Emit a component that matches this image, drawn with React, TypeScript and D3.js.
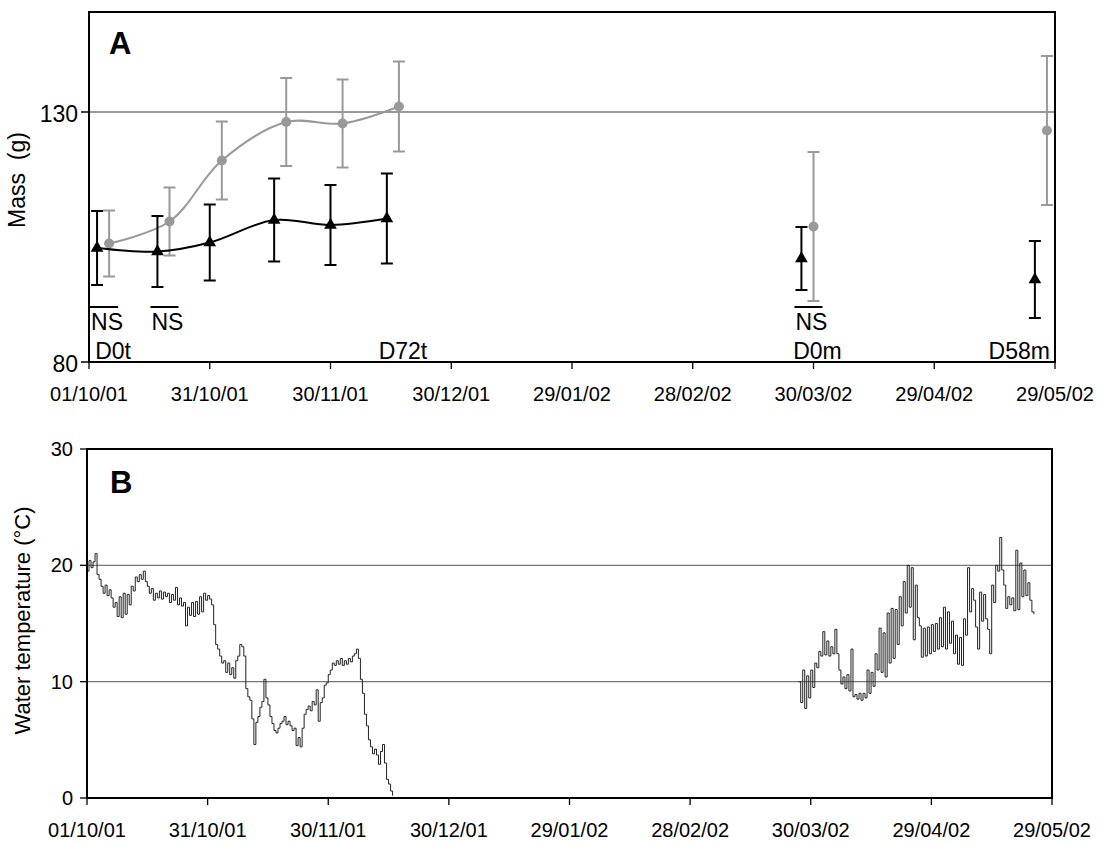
import { useEffect, useRef } from 'react';
import * as d3 from 'd3';

// x axis tick labels (every 30 days)
const tickLabels = ['01/10/01', '31/10/01', '30/11/01', '30/12/01', '29/01/02', '28/02/02', '30/03/02', '29/04/02', '29/05/02'];

// Panel A - mass, black triangles
const triDates = ['2001-10-03', '2001-10-18', '2001-10-31', '2001-11-16', '2001-11-30', '2001-12-14', '2002-03-27', '2002-05-24'];
const triMass = [102.8, 102.1, 103.9, 108.4, 107.4, 108.7, 100.7, 96.5];
const triErr = [7.4, 7.1, 7.6, 8.3, 8.0, 9.0, 6.3, 7.7];

// Panel A - mass, grey circles
const dotDates = ['2001-10-06', '2001-10-21', '2001-11-03', '2001-11-19', '2001-12-03', '2001-12-17', '2002-03-30', '2002-05-27'];
const dotMass = [103.7, 108.1, 120.3, 128.0, 127.7, 131.1, 107.1, 126.3];
const dotErr = [6.6, 6.8, 7.8, 8.8, 8.8, 9.0, 14.9, 14.9];

// how many points of each series are joined by the smoothed line
const joined = 6;

// NS marks under point pairs (index into both series)
const nsIndex = [0, 1, 6];
// day labels
const dayLabels = ['D0t', 'D72t', 'D0m', 'D58m'];
const dayLabelIndex = [0, 5, 6, 7];

// Panel B - water temperature, readings every 12 h
const autumnStart = '2001-10-01';
const autumnTemp = [
  19.5, 20.4, 19.8, 20.3, 21.0, 19.2, 18.8, 18.2, 17.6, 18.3,
  17.4, 17.9, 17.2, 16.4, 16.8, 15.6, 17.3, 15.5, 17.6, 15.8,
  17.5, 16.6, 18.2, 17.8, 19.0, 18.6, 19.2, 18.8, 19.5, 18.6,
  18.2, 17.6, 18.0, 17.0, 17.6, 17.2, 17.8, 17.1, 17.7, 17.3,
  17.6, 16.8, 17.5, 17.0, 18.1, 16.6, 17.2, 16.5, 16.8, 14.8,
  16.4, 15.7, 16.8, 15.6, 16.9, 15.8, 17.3, 16.0, 17.6, 17.0,
  17.4, 17.1, 16.6, 14.9, 13.2, 12.8, 12.2, 11.6, 11.8, 10.8,
  11.6, 10.6, 11.2, 10.3, 11.8, 12.2, 13.2, 13.0, 12.2, 9.4,
  8.7, 8.4, 6.8, 4.6, 6.5, 7.0, 7.8, 8.3, 10.2, 8.6,
  8.0, 7.0, 6.4, 5.8, 5.6, 6.0, 6.4, 6.6, 7.0, 6.3,
  6.6, 6.2, 5.8, 6.0, 4.5, 5.2, 4.4, 6.0, 7.2, 7.6,
  7.9, 7.5, 8.3, 8.0, 9.3, 6.6, 8.2, 8.6, 9.7, 9.9,
  10.6, 11.0, 11.6, 11.4, 11.8, 11.5, 12.0, 11.4, 11.8, 11.5,
  12.0, 11.7, 12.2, 12.4, 12.8, 12.0, 10.2, 9.0, 7.2, 6.2,
  5.0, 4.4, 3.8, 4.2, 3.7, 2.9, 4.0, 4.6, 3.0, 1.6,
  1.2, 0.6, 0.2,
];
const springStart = '2002-03-27';
const springTemp = [
  10.0, 8.2, 11.0, 7.7, 10.5, 8.6, 11.0, 9.5, 11.6, 11.2,
  12.6, 12.2, 14.3, 12.3, 13.5, 12.2, 13.0, 12.4, 14.5, 12.4,
  11.0, 9.8, 10.4, 9.4, 10.6, 9.2, 12.8, 8.7, 8.9, 8.5,
  9.0, 8.4, 9.0, 8.6, 11.0, 9.0, 10.8, 9.6, 12.4, 11.0,
  14.6, 10.8, 14.2, 10.4, 15.9, 11.6, 16.3, 12.0, 16.2, 13.2,
  17.3, 14.8, 18.6, 15.9, 20.0, 16.4, 19.8, 13.6, 18.3, 15.5,
  14.8, 12.1, 14.6, 12.2, 14.7, 12.4, 14.9, 12.6, 15.0, 12.8,
  15.5, 13.0, 16.4, 12.8, 16.0, 13.3, 15.2, 12.4, 14.0, 11.5,
  13.8, 11.4, 15.4, 14.0, 19.8, 16.0, 18.0, 17.0, 14.7, 12.8,
  17.7, 15.2, 17.5, 15.4, 14.5, 12.4, 18.3, 16.8, 20.0, 19.5,
  22.4, 19.6, 18.3, 16.3, 17.3, 16.6, 17.2, 16.1, 21.3, 16.2,
  20.2, 17.3, 19.6, 17.4, 18.5, 17.0, 16.0, 15.8,
];

const massTicks = [80, 130];
const tempTicks = [0, 10, 20, 30];

const FONT = 'Liberation Sans, Arial, sans-serif';
const GREY = '#999999';

function App() {
  const svgRef = useRef<SVGSVGElement>(null);

  useEffect(() => {
    if (!svgRef.current) return;
    const svg = d3.select(svgRef.current);
    svg.selectAll('*').remove();

    const parseTick = d3.utcParse('%d/%m/%y');
    const parseIso = d3.utcParse('%Y-%m-%d');
    const tickDates = tickLabels.map((t) => parseTick(t) as Date);
    const domain = [tickDates[0], tickDates[tickDates.length - 1]];

    // ---------- Panel A ----------
    const a = { left: 89, right: 1055, top: 12, bottom: 362 };
    const xA = d3.scaleUtc().domain(domain).range([a.left, a.right]);
    const yA = d3.scaleLinear().domain([80, 150]).range([a.bottom, a.top]);

    const gA = svg.append('g');

    // gridline
    massTicks.filter((t) => t > 80).forEach((t) => {
      gA.append('line')
        .attr('x1', a.left).attr('x2', a.right)
        .attr('y1', yA(t)).attr('y2', yA(t))
        .attr('stroke', '#777').attr('stroke-width', 1.3);
    });

    // frame
    gA.append('rect')
      .attr('x', a.left).attr('y', a.top)
      .attr('width', a.right - a.left).attr('height', a.bottom - a.top)
      .attr('fill', 'none').attr('stroke', '#000').attr('stroke-width', 2);

    // y ticks + labels
    massTicks.forEach((t) => {
      gA.append('line')
        .attr('x1', a.left - 8).attr('x2', a.left)
        .attr('y1', yA(t)).attr('y2', yA(t))
        .attr('stroke', '#000').attr('stroke-width', 1.5);
      gA.append('text')
        .attr('x', a.left - 11).attr('y', yA(t) + 9.5)
        .attr('text-anchor', 'end')
        .attr('font-family', FONT).attr('font-size', 23)
        .text(String(t));
    });

    // x ticks + labels
    tickDates.forEach((d, i) => {
      gA.append('line')
        .attr('x1', xA(d)).attr('x2', xA(d))
        .attr('y1', a.bottom).attr('y2', a.bottom + 7)
        .attr('stroke', '#000').attr('stroke-width', 1.3);
      gA.append('text')
        .attr('x', xA(d)).attr('y', a.bottom + 39)
        .attr('text-anchor', 'middle')
        .attr('font-family', FONT).attr('font-size', 20)
        .text(tickLabels[i]);
    });

    gA.append('text')
      .attr('transform', `translate(25,${(a.top + a.bottom) / 2 - 7}) rotate(-90)`)
      .attr('text-anchor', 'middle')
      .attr('font-family', FONT).attr('font-size', 23)
      .style('white-space', 'pre')
      .text('Mass  (g)');

    gA.append('text')
      .attr('x', 109).attr('y', 54)
      .attr('font-family', FONT).attr('font-size', 31).attr('font-weight', 'bold')
      .text('A');

    const triPts = triDates.map((d, i) => ({ x: xA(parseIso(d) as Date), m: triMass[i], e: triErr[i] }));
    const dotPts = dotDates.map((d, i) => ({ x: xA(parseIso(d) as Date), m: dotMass[i], e: dotErr[i] }));

    const smooth = d3.line<{ x: number; m: number }>()
      .x((p) => p.x).y((p) => yA(p.m))
      .curve(d3.curveCatmullRom.alpha(0.5));

    const drawBars = (pts: { x: number; m: number; e: number }[], color: string) => {
      pts.forEach((p) => {
        gA.append('line')
          .attr('x1', p.x).attr('x2', p.x)
          .attr('y1', yA(p.m - p.e)).attr('y2', yA(p.m + p.e))
          .attr('stroke', color).attr('stroke-width', 2);
        [p.m - p.e, p.m + p.e].forEach((v) => {
          gA.append('line')
            .attr('x1', p.x - 6).attr('x2', p.x + 6)
            .attr('y1', yA(v)).attr('y2', yA(v))
            .attr('stroke', color).attr('stroke-width', 2);
        });
      });
    };

    // grey series
    drawBars(dotPts, GREY);
    gA.append('path')
      .attr('d', smooth(dotPts.slice(0, joined)))
      .attr('fill', 'none').attr('stroke', GREY).attr('stroke-width', 2);
    dotPts.forEach((p) => {
      gA.append('circle')
        .attr('cx', p.x).attr('cy', yA(p.m)).attr('r', 5)
        .attr('fill', GREY);
    });

    // black series
    drawBars(triPts, '#000');
    gA.append('path')
      .attr('d', smooth(triPts.slice(0, joined)))
      .attr('fill', 'none').attr('stroke', '#000').attr('stroke-width', 2);
    const tri = d3.symbol().type(d3.symbolTriangle).size(70);
    triPts.forEach((p) => {
      gA.append('path')
        .attr('d', tri() as string)
        .attr('transform', `translate(${p.x},${yA(p.m)})`)
        .attr('fill', '#000');
    });

    // NS marks
    nsIndex.forEach((i) => {
      const x0 = triPts[i].x - 7;
      const x1 = dotPts[i].x + 9;
      gA.append('line')
        .attr('x1', x0).attr('x2', x1)
        .attr('y1', a.bottom - 55).attr('y2', a.bottom - 55)
        .attr('stroke', '#000').attr('stroke-width', 2);
      gA.append('text')
        .attr('x', x0 + 1).attr('y', a.bottom - 32)
        .attr('font-family', FONT).attr('font-size', 23)
        .text('NS');
    });

    // day labels
    dayLabels.forEach((t, k) => {
      const p = dotPts[dayLabelIndex[k]];
      const last = k === dayLabels.length - 1;
      gA.append('text')
        .attr('x', last ? p.x + 3 : p.x + 4).attr('y', a.bottom - 3)
        .attr('text-anchor', last ? 'end' : 'middle')
        .attr('font-family', FONT).attr('font-size', 23)
        .text(t);
    });

    // ---------- Panel B ----------
    const b = { left: 87, right: 1052, top: 449, bottom: 798 };
    const xB = d3.scaleUtc().domain(domain).range([b.left, b.right]);
    const yB = d3.scaleLinear().domain([0, 30]).range([b.bottom, b.top]);

    const gB = svg.append('g');

    tempTicks.filter((t) => t > 0 && t < 30).forEach((t) => {
      gB.append('line')
        .attr('x1', b.left).attr('x2', b.right)
        .attr('y1', yB(t)).attr('y2', yB(t))
        .attr('stroke', '#777').attr('stroke-width', 1.3);
    });

    const half = 12 * 3600 * 1000;
    const series = [
      { start: parseIso(autumnStart) as Date, vals: autumnTemp },
      { start: parseIso(springStart) as Date, vals: springTemp },
    ];
    const step = d3.line<[number, number]>()
      .x((p) => p[0]).y((p) => p[1])
      .curve(d3.curveStepAfter);
    series.forEach((s) => {
      const pts: [number, number][] = s.vals.map((v, i) => [
        xB(new Date(s.start.getTime() + i * half)),
        yB(v),
      ]);
      gB.append('path')
        .attr('d', step(pts))
        .attr('fill', 'none').attr('stroke', '#222').attr('stroke-width', 1);
    });

    gB.append('rect')
      .attr('x', b.left).attr('y', b.top)
      .attr('width', b.right - b.left).attr('height', b.bottom - b.top)
      .attr('fill', 'none').attr('stroke', '#000').attr('stroke-width', 2);

    tempTicks.forEach((t) => {
      gB.append('line')
        .attr('x1', b.left - 7).attr('x2', b.left)
        .attr('y1', yB(t)).attr('y2', yB(t))
        .attr('stroke', '#000').attr('stroke-width', 1.3);
      gB.append('text')
        .attr('x', b.left - 14).attr('y', yB(t) + 7)
        .attr('text-anchor', 'end')
        .attr('font-family', FONT).attr('font-size', 20)
        .text(String(t));
    });

    tickDates.forEach((d, i) => {
      gB.append('line')
        .attr('x1', xB(d)).attr('x2', xB(d))
        .attr('y1', b.bottom).attr('y2', b.bottom + 7)
        .attr('stroke', '#000').attr('stroke-width', 1.3);
      gB.append('text')
        .attr('x', xB(d)).attr('y', b.bottom + 39)
        .attr('text-anchor', 'middle')
        .attr('font-family', FONT).attr('font-size', 20)
        .text(tickLabels[i]);
    });

    gB.append('text')
      .attr('transform', `translate(29.5,${(b.top + b.bottom) / 2 - 3}) rotate(-90)`)
      .attr('text-anchor', 'middle')
      .attr('font-family', FONT).attr('font-size', 22)
      .text('Water temperature (°C)');

    gB.append('text')
      .attr('x', 110).attr('y', 493)
      .attr('font-family', FONT).attr('font-size', 31).attr('font-weight', 'bold')
      .text('B');
  }, []);

  return (
    <svg
      ref={svgRef}
      width={1115}
      height={841}
      style={{ position: 'absolute', left: 0, top: 0, background: '#fff' }}
    />
  );
}

export default App;
